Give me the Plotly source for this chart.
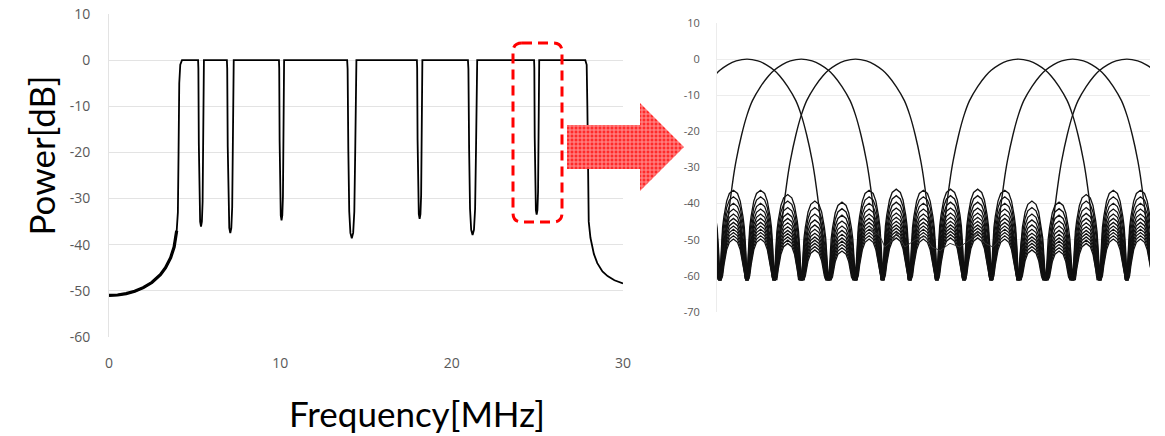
import plotly.graph_objects as go

W, H = 1165, 436
OFF = 0  # page body margin removed by post_script below

# ---------------- Left chart: wideband spectrum (MHz, dB) ----------------
skirt_left_f = [0, 0.5, 1.0, 1.5, 2.0, 2.5, 3.0, 3.3, 3.6, 3.8, 3.95, 4.02, 4.06, 4.1, 4.16, 4.26]
skirt_left_db = [-51.0, -50.9, -50.6, -50.1, -49.3, -48.2, -46.5, -45.0, -42.8, -40.5, -37.0, -33.0, -20.0, -5.0, -1.0, 0.0]
notch_center = [5.37, 7.08, 10.07, 14.17, 18.13, 21.22, 24.96]
notch_halfwidth = [0.17, 0.20, 0.15, 0.27, 0.16, 0.27, 0.15]
notch_depth = [-36.1, -37.5, -34.7, -38.6, -34.4, -37.9, -33.5]
notch_profile_pos = [-1.0, -0.9, -0.75, -0.55, -0.3, 0.0, 0.3, 0.55, 0.75, 0.9, 1.0]
notch_profile_frac = [0.0, 0.05, 0.5, 0.85, 0.97, 1.0, 0.97, 0.85, 0.5, 0.05, 0.0]
skirt_right_f = [27.8, 27.88, 27.92, 27.96, 28.0, 28.1, 28.3, 28.5, 28.8, 29.1, 29.5, 30.0]
skirt_right_db = [0.0, -1.0, -10.0, -30.0, -35.0, -38.5, -42.0, -44.0, -45.8, -46.8, -47.7, -48.4]
left_xticks = [0, 10, 20, 30]
left_yticks = [10, 0, -10, -20, -30, -40, -50, -60]
left_yticktext = ["10", "0", "-10", "-20", "-30", "-40", "-50", "-60"]

# ---------------- Right chart: zoom on sub-carriers (index, dB) ----------------
carrier_index = [0, 1, 2, 5, 6, 7]
lobe_offset = [-1.42, -1.35, -1.3, -1.25, -1.2, -1.1, -1.0, -0.9, -0.75, -0.6, -0.5, -0.35, -0.2, 0.0,
               0.2, 0.35, 0.5, 0.6, 0.75, 0.9, 1.0, 1.1, 1.2, 1.25, 1.3, 1.35, 1.42]
lobe_db = [-53, -44, -38, -32.5, -28, -21, -15.5, -11.5, -7.6, -4.6, -3.1, -1.5, -0.5, 0.0,
           -0.5, -1.5, -3.1, -4.6, -7.6, -11.5, -15.5, -21, -28, -32.5, -38, -44, -53]
sidelobe_interval = list(range(-2, 15))
sidelobe_top_db = [-36.5, -36.3, -36.3, -37.5, -39.3, -39.6, -36.3, -36.0, -36.3,
                   -36.0, -36.0, -36.3, -39.3, -39.6, -37.5, -36.3, -36.3]
layer_drop_db = [0.0, 1.8, 3.6, 5.2, 6.6, 7.8, 8.9, 9.9, 10.8, 11.7, 12.6, 13.5]
arch_u = [0.0, 0.02, 0.05, 0.1, 0.15, 0.25, 0.35, 0.5, 0.65, 0.75, 0.85, 0.9, 0.95, 0.98, 1.0]
arch_rel_db = [-24, -21, -16, -10.2, -7.2, -3.0, -0.9, 0.0, -0.9, -3.0, -7.2, -10.2, -16, -21, -24]
null_floor_db = -61
residual_x = [2.27, 2.45, 2.54, 2.69, 2.76, 2.91, 3.10, 3.28, 3.41, 3.56, 3.74, 3.92, 4.11, 4.24, 4.39, 4.53, 4.66]
residual_db = [-47, -49, -52, -50, -48, -52, -50, -49, -52, -53, -51, -52, -50, -48, -51, -52, -50]
right_yticks = [10, 0, -10, -20, -30, -40, -50, -60, -70]
right_yticktext = ["10", "0", "-10", "-20", "-30", "-40", "-50", "-60", "-70"]

FW, FH = W - OFF, H - OFF


def px(xp):
    return (xp - OFF) / FW


def py(yp):
    return 1 - (yp - OFF) / FH


fig = go.Figure()

# ---- left spectrum trace ----
lx = list(skirt_left_f)
ly = list(skirt_left_db)
for c, hw, d in zip(notch_center, notch_halfwidth, notch_depth):
    for p, fr in zip(notch_profile_pos, notch_profile_frac):
        lx.append(c + p * hw)
        ly.append(fr * d)
lx += skirt_right_f
ly += skirt_right_db
fig.add_trace(go.Scatter(x=lx, y=ly, mode="lines", line=dict(color="black", width=1.8),
                         xaxis="x", yaxis="y", hoverinfo="skip", showlegend=False))
fig.add_trace(go.Scatter(x=skirt_left_f[:11], y=skirt_left_db[:11], mode="lines",
                         line=dict(color="black", width=3.2), xaxis="x", yaxis="y",
                         hoverinfo="skip", showlegend=False))

# ---- right: sidelobe layers ----
for drop in layer_drop_db:
    xs, ys = [], []
    for m, top in zip(sidelobe_interval, sidelobe_top_db):
        for u, r in zip(arch_u, arch_rel_db):
            xs.append(0.5 * m + 0.5 * u)
            ys.append(max(top - drop + r, null_floor_db))
    fig.add_trace(go.Scatter(x=xs, y=ys, mode="lines", line=dict(color="#111111", width=1.3),
                             xaxis="x2", yaxis="y2", hoverinfo="skip", showlegend=False))

# ---- right: main lobes ----
for c in carrier_index:
    fig.add_trace(go.Scatter(x=[c + o for o in lobe_offset], y=lobe_db, mode="lines",
                             line=dict(color="#151515", width=1.4, shape="spline", smoothing=0.6),
                             xaxis="x2", yaxis="y2", hoverinfo="skip", showlegend=False))

fig.add_trace(go.Scatter(x=residual_x, y=residual_db, mode="lines",
                         line=dict(color="#333", width=1.0),
                         xaxis="x2", yaxis="y2", hoverinfo="skip", showlegend=False))

# ---- overlay (pixel coordinates of the target picture) for arrow ----
ax = [567, 640, 640, 684, 640, 640, 567, 567]
ay = [125, 125, 103, 147, 191, 169, 169, 125]
fig.add_trace(go.Scatter(x=ax, y=ay, mode="lines", fill="toself", line=dict(width=0),
                         fillcolor="#ff2a2a",
                         fillpattern=dict(shape="+", fgcolor="white", bgcolor="#ff2a2a",
                                          size=4, solidity=0.45),
                         xaxis="x3", yaxis="y3", hoverinfo="skip", showlegend=False))

# dashed rounded box
r = 9
x0, x1, y0, y1 = 513, 562, 43, 222
path = (f"M {x0+r},{y0} L {x1-r},{y0} Q {x1},{y0} {x1},{y0+r} L {x1},{y1-r} "
        f"Q {x1},{y1} {x1-r},{y1} L {x0+r},{y1} Q {x0},{y1} {x0},{y1-r} "
        f"L {x0},{y0+r} Q {x0},{y0} {x0+r},{y0} Z")
fig.add_shape(type="path", path=path, xref="x3", yref="y3",
              line=dict(color="#ff0000", width=3, dash="10px,6px"))

tick_font_l = dict(family="Open Sans, sans-serif", size=14, color="#595959")
tick_font_r = dict(family="Open Sans, sans-serif", size=11, color="#595959")
grid = "#e3e3e3"

fig.update_layout(
    width=FW, height=FH, margin=dict(l=0, r=0, t=0, b=0, autoexpand=False),
    paper_bgcolor="white", plot_bgcolor="rgba(0,0,0,0)",
    xaxis=dict(domain=[px(109), px(623)], range=[0, 30], tickvals=left_xticks,
               showgrid=False, zeroline=False, showline=False, ticks="", automargin=False,
               tickfont=tick_font_l, ticklabelstandoff=16, anchor="y"),
    yaxis=dict(domain=[py(337.2), py(13.8)], range=[-60.05, 10.05], tickvals=left_yticks,
               ticktext=left_yticktext, ticklabeloverflow="allow",
               showgrid=True, gridcolor=grid, zeroline=False, showline=True, automargin=False,
               linecolor=grid, ticks="", tickfont=tick_font_l, ticklabelstandoff=15,
               anchor="x"),
    xaxis2=dict(domain=[px(717), px(1150)], range=[-0.553, 7.426], showticklabels=False,
                showgrid=False, zeroline=False, showline=False, ticks="", anchor="y2",
                automargin=False),
    yaxis2=dict(domain=[py(312.2), py(22.8)], range=[-70.05, 10.05], tickvals=right_yticks,
                ticktext=right_yticktext, ticklabeloverflow="allow",
                showgrid=True, gridcolor="#ececec", zeroline=False, showline=True,
                linecolor="#ececec", ticks="", tickfont=tick_font_r, ticklabelstandoff=14,
                anchor="x2", automargin=False),
    xaxis3=dict(domain=[0, 1], range=[OFF, W], visible=False, anchor="y3", fixedrange=True,
                automargin=False),
    yaxis3=dict(domain=[0, 1], range=[H, OFF], visible=False, anchor="x3", fixedrange=True,
                automargin=False),
    annotations=[
        dict(text="Power[dB]", x=px(40.5), y=py(156), xref="paper", yref="paper",
             textangle=-90, showarrow=False, xanchor="center", yanchor="middle",
             font=dict(family="Lato, sans-serif", size=35, color="black")),
        dict(text="Frequency[MHz]", x=px(416.5), y=py(413), xref="paper", yref="paper",
             showarrow=False, xanchor="center", yanchor="middle",
             font=dict(family="Lato, sans-serif", size=35, color="black")),
    ],
)

fig.write_html("out.html", config={"displayModeBar": False},
               post_script="document.body.style.margin='0px';document.body.style.overflow='hidden';")
